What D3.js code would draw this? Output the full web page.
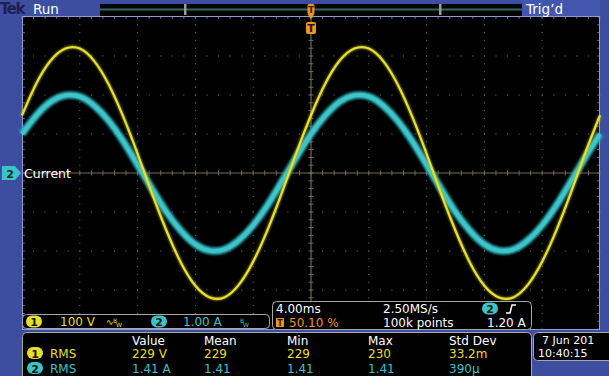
<!doctype html>
<html lang="en">
<head>
    <meta charset="utf-8">
    <title>Tek scope - Current</title>
    <style>
        html, body { margin: 0; padding: 0; background: #3d4ea1; }
        svg { display: block; }
        text { font-family: "DejaVu Sans", sans-serif; }
    </style>
</head>
<body>
<svg width="609" height="376"></svg>
<script src="https://d3js.org/d3.v7.min.js"></script>
<script>
    // sample times (ms) and traces
    var timeMs = [-20, -19, -18, -17, -16, -15, -14, -13, -12, -11, -10, -9, -8, -7, -6, -5, -4, -3, -2, -1,
        0, 1, 2, 3, 4, 5, 6, 7, 8, 9, 10, 11, 12, 13, 14, 15, 16, 17, 18, 19, 20];
    var voltage = [148, 230, 289, 319, 319, 287, 227, 145, 49, -53, -148, -230, -289, -319, -319, -287, -227, -145, -49, 53,
        148, 230, 289, 319, 319, 287, 227, 145, 49, -53, -148, -230, -289, -319, -319, -287, -227, -145, -49, 53, 148];
    var current = [1.00, 1.48, 1.83, 1.99, 1.96, 1.73, 1.34, 0.82, 0.21, -0.41, -1.00, -1.48, -1.83, -1.99, -1.96, -1.73, -1.34, -0.82, -0.21, 0.41,
        1.00, 1.48, 1.83, 1.99, 1.96, 1.73, 1.34, 0.82, 0.21, -0.41, -1.00, -1.48, -1.83, -1.99, -1.96, -1.73, -1.34, -0.82, -0.21, 0.41, 1.00];

    var xDivs = [-20, -16, -12, -8, -4, 0, 4, 8, 12, 16, 20];
    var vDivs = [-400, -300, -200, -100, 0, 100, 200, 300, 400];

    var measHeaders = ["Value", "Mean", "Min", "Max", "Std Dev"];
    var measCh1 = ["229 V", "229", "229", "230", "33.2m"];
    var measCh2 = ["1.41 A", "1.41", "1.41", "1.41", "390\u00b5"];

    var YEL = "#e6df2e", CYN = "#3cc3ca", ORG = "#f0951e", BLUE = "#3d4ea1";

    var svg = d3.select("svg");
    var x = d3.scaleLinear().domain([-20, 20]).range([22, 600]);
    var yV = d3.scaleLinear().domain([-400, 400]).range([329, 17]);
    var yI = d3.scaleLinear().domain([-4, 4]).range([329, 17]);

    var defs = svg.append("defs");
    defs.append("filter").attr("id", "fuzz").attr("x", "-5%").attr("y", "-5%").attr("width", "110%").attr("height", "110%")
        .append("feGaussianBlur").attr("stdDeviation", 0.9);

    svg.append("rect").attr("width", 609).attr("height", 376).attr("fill", BLUE);

    // graticule
    svg.append("rect").attr("x", 22).attr("y", 16).attr("width", 578).attr("height", 313)
        .attr("fill", "#000");

    var grid = svg.append("g").attr("fill", "#7a7a6e");
    var minorX = d3.range(-20, 20.01, 0.8), minorV = d3.range(-400, 400.1, 20);
    xDivs.slice(1, -1).filter(function(d) { return d !== 0; }).forEach(function(t) {
        minorV.forEach(function(v) {
            grid.append("rect").attr("x", x(t) - 0.5).attr("y", yV(v) - 0.5).attr("width", 1).attr("height", 1);
        });
    });
    vDivs.slice(1, -1).filter(function(d) { return d !== 0; }).forEach(function(v) {
        minorX.forEach(function(t) {
            grid.append("rect").attr("x", x(t) - 0.5).attr("y", yV(v) - 0.5).attr("width", 1).attr("height", 1);
        });
    });

    // center cross with ticks
    var axisCol = "#746a50";
    svg.append("line").attr("x1", 22).attr("x2", 600).attr("y1", yV(0)).attr("y2", yV(0))
        .attr("stroke", axisCol).attr("stroke-width", 1.2);
    svg.append("line").attr("x1", x(0)).attr("x2", x(0)).attr("y1", 16).attr("y2", 329)
        .attr("stroke", axisCol).attr("stroke-width", 1.2);
    minorX.forEach(function(t) {
        svg.append("line").attr("x1", x(t)).attr("x2", x(t)).attr("y1", yV(0) - 2.5).attr("y2", yV(0) + 2.5)
            .attr("stroke", axisCol);
        svg.append("line").attr("x1", x(t)).attr("x2", x(t)).attr("y1", 16).attr("y2", 19).attr("stroke", "#666");
    });
    minorV.forEach(function(v) {
        svg.append("line").attr("y1", yV(v)).attr("y2", yV(v)).attr("x1", x(0) - 2.5).attr("x2", x(0) + 2.5)
            .attr("stroke", axisCol);
        svg.append("line").attr("y1", yV(v)).attr("y2", yV(v)).attr("x1", 597).attr("x2", 600).attr("stroke", "#666");
        svg.append("line").attr("y1", yV(v)).attr("y2", yV(v)).attr("x1", 22).attr("x2", 25).attr("stroke", "#666");
    });
    svg.append("rect").attr("x", 22.5).attr("y", 16.5).attr("width", 577).attr("height", 313)
        .attr("fill", "none").attr("stroke", "#8d9bd6").attr("stroke-width", 1);

    // traces
    var pts = timeMs.map(function(t, i) { return { t: t, v: voltage[i], a: current[i] }; });
    var lineI = d3.line().curve(d3.curveNatural).x(function(d) { return x(d.t); }).y(function(d) { return yI(d.a); });
    var lineV = d3.line().curve(d3.curveNatural).x(function(d) { return x(d.t); }).y(function(d) { return yV(d.v); });

    var traces = svg.append("g");
    traces.append("path").attr("d", lineI(pts)).attr("fill", "none").attr("stroke", "#2aaeb6")
        .attr("stroke-width", 7.5).attr("filter", "url(#fuzz)");
    traces.append("path").attr("d", lineI(pts)).attr("fill", "none").attr("stroke", "#45c9cf")
        .attr("stroke-width", 4).attr("opacity", 0.8);
    traces.append("path").attr("d", lineV(pts)).attr("fill", "none").attr("stroke", "#b8b020")
        .attr("stroke-width", 3.4).attr("opacity", 0.7).attr("filter", "url(#fuzz)");
    traces.append("path").attr("d", lineV(pts)).attr("fill", "none").attr("stroke", YEL)
        .attr("stroke-width", 2.2);

    // top bar
    svg.append("rect").attr("x", 100).attr("y", 4).attr("width", 422).attr("height", 12).attr("fill", "#050505");
    svg.append("line").attr("x1", 100).attr("x2", 522).attr("y1", 9.5).attr("y2", 9.5)
        .attr("stroke", "#2f6a62").attr("stroke-width", 2);
    [185, 440].forEach(function(bx) {
        svg.append("rect").attr("x", bx - 1).attr("y", 4).attr("width", 2.5).attr("height", 11).attr("fill", "#9a9a9a");
    });
    svg.append("text").attr("x", 0).attr("y", 14).attr("font-size", 15).attr("font-weight", "bold")
        .attr("fill", "#1b2150").attr("letter-spacing", -1.5).text("Tek");
    svg.append("text").attr("x", 33).attr("y", 13.5).attr("font-size", 13.5).attr("fill", "#fff").text("Run");
    svg.append("rect").attr("x", 522).attr("y", 0).attr("width", 78).attr("height", 16).attr("fill", "#4356ad");
    svg.append("text").attr("x", 526).attr("y", 13.5).attr("font-size", 13.5).attr("fill", "#fff").text("Trig\u2019d");

    // trigger position marker
    var tx = x(0);
    svg.append("rect").attr("x", tx - 3.5).attr("y", 4).attr("width", 7).attr("height", 10).attr("rx", 1.5).attr("fill", ORG);
    svg.append("text").attr("x", tx).attr("y", 12.5).attr("text-anchor", "middle").attr("font-size", 9)
        .attr("font-weight", "bold").attr("fill", "#3a2000").text("T");
    svg.append("path").attr("d", "M" + (tx - 3.5) + ",14 L" + (tx + 3.5) + ",14 L" + tx + ",19 Z").attr("fill", ORG);
    svg.append("rect").attr("x", tx - 5).attr("y", 22).attr("width", 10).attr("height", 12).attr("rx", 2).attr("fill", ORG);
    svg.append("text").attr("x", tx).attr("y", 32).attr("text-anchor", "middle").attr("font-size", 11)
        .attr("font-weight", "bold").attr("fill", "#2a1800").text("T");

    // channel 2 ground marker
    var gy = yI(0);
    svg.append("path").attr("d", "M2," + (gy - 7) + " L15," + (gy - 7) + " L21," + gy + " L15," + (gy + 7) + " L2," + (gy + 7) + " Z")
        .attr("fill", CYN);
    svg.append("text").attr("x", 10).attr("y", gy + 4.5).attr("text-anchor", "middle").attr("font-size", 11)
        .attr("font-weight", "bold").attr("fill", "#0a2a30").text("2");
    svg.append("text").attr("x", 24).attr("y", gy + 5).attr("font-size", 12.5).attr("fill", "#fff").text("Current");

    function badge(g, cx, cy, col, label) {
        g.append("rect").attr("x", cx - 8).attr("y", cy - 6).attr("width", 16).attr("height", 12).attr("rx", 6).attr("fill", col);
        g.append("text").attr("x", cx).attr("y", cy + 4.5).attr("text-anchor", "middle").attr("font-size", 11)
            .attr("font-weight", "bold").attr("fill", "#1a1a00").text(label);
    }

    // channel bar
    var cb = svg.append("g");
    cb.append("rect").attr("x", 22.5).attr("y", 314.5).attr("width", 247).attr("height", 14).attr("rx", 4)
        .attr("fill", "#000").attr("stroke", "#a8a8a8");
    badge(cb, 34, 321.5, YEL, "1");
    cb.append("text").attr("x", 60).attr("y", 326).attr("font-size", 12).attr("fill", YEL).text("100 V");
    cb.append("text").attr("x", 106).attr("y", 325).attr("font-size", 9).attr("fill", YEL).text("\u223f");
    cb.append("text").attr("x", 113).attr("y", 322.5).attr("font-size", 6).attr("fill", YEL).text("B");
    cb.append("text").attr("x", 116).attr("y", 327).attr("font-size", 6).attr("fill", YEL).text("W");
    badge(cb, 159, 321.5, CYN, "2");
    cb.append("text").attr("x", 183).attr("y", 326).attr("font-size", 12).attr("fill", CYN).text("1.00 A");
    cb.append("text").attr("x", 240).attr("y", 322.5).attr("font-size", 6).attr("fill", CYN).text("B");
    cb.append("text").attr("x", 243).attr("y", 327).attr("font-size", 6).attr("fill", CYN).text("W");

    // timebase box
    var tb = svg.append("g");
    tb.append("rect").attr("x", 272.5).attr("y", 301.5).attr("width", 259).attr("height", 28).attr("rx", 4)
        .attr("fill", "#000").attr("stroke", "#a8a8a8");
    tb.append("text").attr("x", 276).attr("y", 313).attr("font-size", 12).attr("fill", "#fff").text("4.00ms");
    tb.append("text").attr("x", 383).attr("y", 313).attr("font-size", 12).attr("fill", "#fff").text("2.50MS/s");
    badge(tb, 490, 308.5, CYN, "2");
    tb.append("path").attr("d", "M506,313 L510,313 L512,305 L516,305").attr("fill", "none")
        .attr("stroke", "#fff").attr("stroke-width", 1.5);
    tb.append("rect").attr("x", 276).attr("y", 318).attr("width", 8).attr("height", 9).attr("fill", ORG);
    tb.append("text").attr("x", 280).attr("y", 326).attr("text-anchor", "middle").attr("font-size", 8)
        .attr("font-weight", "bold").attr("fill", "#2a1800").text("T");
    tb.append("text").attr("x", 289).attr("y", 326.5).attr("font-size", 12).attr("fill", ORG).text("50.10 %");
    tb.append("text").attr("x", 383).attr("y", 326.5).attr("font-size", 12).attr("fill", "#fff").text("100k points");
    tb.append("text").attr("x", 487).attr("y", 326.5).attr("font-size", 12).attr("fill", "#fff").text("1.20 A");

    // measurement table
    var mt = svg.append("g");
    mt.append("rect").attr("x", 22.5).attr("y", 332.5).attr("width", 509).attr("height", 50).attr("rx", 4)
        .attr("fill", "#000").attr("stroke", "#a8a8a8");
    var colX = [132, 204, 287, 368, 449];
    measHeaders.forEach(function(h, i) {
        mt.append("text").attr("x", colX[i]).attr("y", 345).attr("font-size", 12).attr("fill", "#fff").text(h);
    });
    badge(mt, 35, 353, YEL, "1");
    mt.append("text").attr("x", 50).attr("y", 357.5).attr("font-size", 12).attr("fill", YEL).text("RMS");
    badge(mt, 35, 368, CYN, "2");
    mt.append("text").attr("x", 50).attr("y", 372.5).attr("font-size", 12).attr("fill", CYN).text("RMS");
    measCh1.forEach(function(m, i) {
        mt.append("text").attr("x", colX[i]).attr("y", 357.5).attr("font-size", 12).attr("fill", YEL).text(m);
    });
    measCh2.forEach(function(m, i) {
        mt.append("text").attr("x", colX[i]).attr("y", 372.5).attr("font-size", 12).attr("fill", CYN).text(m);
    });

    // date box
    var db = svg.append("g");
    db.append("rect").attr("x", 533.5).attr("y", 332.5).attr("width", 84).attr("height", 28).attr("rx", 4)
        .attr("fill", "#000").attr("stroke", "#a8a8a8");
    db.append("text").attr("x", 542).attr("y", 343.5).attr("font-size", 11).attr("fill", "#fff").text("7 Jun 201");
    db.append("text").attr("x", 538).attr("y", 357).attr("font-size", 11).attr("fill", "#fff").text("10:40:15");
</script>
</body>
</html>
